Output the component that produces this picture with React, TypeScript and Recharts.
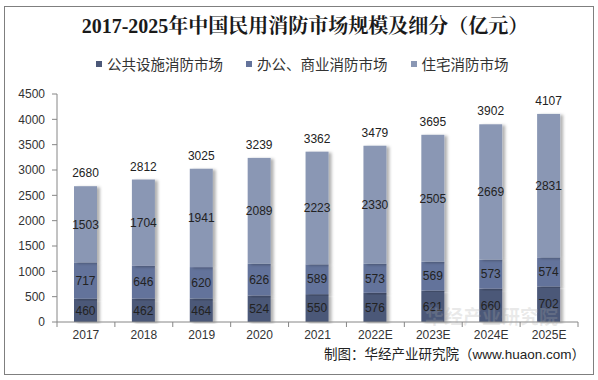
import { BarChart, Bar, XAxis, YAxis, LabelList } from "recharts";

const years = ["2017", "2018", "2019", "2020", "2021", "2022E", "2023E", "2024E", "2025E"];
const publicFacilities = [460, 462, 464, 524, 550, 576, 621, 660, 702];
const officeCommercial = [717, 646, 620, 626, 589, 573, 569, 573, 574];
const residential = [1503, 1704, 1941, 2089, 2223, 2330, 2505, 2669, 2831];
const totals = [2680, 2812, 3025, 3239, 3362, 3479, 3695, 3902, 4107];
const yTicks = [0, 500, 1000, 1500, 2000, 2500, 3000, 3500, 4000, 4500];

const seriesNames = ["公共设施消防市场", "办公、商业消防市场", "住宅消防市场"];
const seriesKeys = ["pub", "office", "res"];
const seriesColors = ["#4c5878", "#64739b", "#8a97b4"];

const data = years.map((year, i) => ({
  year,
  pub: publicFacilities[i],
  office: officeCommercial[i],
  res: residential[i],
  total: totals[i],
}));

const CHART_W = 588;
const CHART_H = 367;
const MARGIN = { top: 87, right: 15, bottom: 27, left: 0 };
const Y_W = 52;
const BAND = (CHART_W - MARGIN.left - MARGIN.right - Y_W) / years.length;

const AXIS = "#868686";
const LATIN = "'Liberation Sans', Arial, 'Noto Sans CJK SC', sans-serif";

function XTick(props: any) {
  const { x, y, payload, index } = props;
  return (
    <g>
      {index === 0 && (
        <line x1={x - BAND / 2} x2={x - BAND / 2} y1={y - 8} y2={y - 3} stroke={AXIS} />
      )}
      <line x1={x + BAND / 2} x2={x + BAND / 2} y1={y - 8} y2={y - 3} stroke={AXIS} />
      <text x={x} y={y} dy="0.71em" textAnchor="middle" fill="#333" fontSize={12} fontFamily={LATIN}>
        {payload.value}
      </text>
    </g>
  );
}

function ShadowRect(props: any) {
  const { x, y, width, height, fill } = props;
  if (!height || height <= 0) return null;
  return <rect x={x} y={y} width={width} height={height} fill={fill} filter="url(#barShadow)" />;
}

export default function App() {
  return (
    <div
      style={{
        position: "absolute",
        left: 4,
        top: 6,
        width: CHART_W,
        height: CHART_H,
        border: "1px solid #7f7f7f",
        background: "#fff",
      }}
    >
      <div
        style={{
          position: "absolute",
          top: 9,
          left: 6,
          width: "100%",
          textAlign: "center",
          fontSize: 20,
          lineHeight: "20px",
          fontWeight: "bold",
          color: "#1a1a1a",
          fontFamily: "'Liberation Serif', 'Noto Serif CJK SC', 'Noto Sans CJK SC', serif",
        }}
      >
        2017-2025年中国民用消防市场规模及细分（亿元）
      </div>

      <div
        style={{
          position: "absolute",
          top: 49,
          left: 91,
          display: "flex",
          alignItems: "center",
          fontSize: 14.5,
          lineHeight: "16px",
          color: "#333",
          fontFamily: "'Noto Sans CJK SC', sans-serif",
          whiteSpace: "nowrap",
        }}
      >
        {seriesNames.map((name, i) => (
          <div key={name} style={{ display: "flex", alignItems: "center", marginRight: 23 }}>
            <span style={{ width: 6, height: 6, background: seriesColors[i], marginRight: 5 }} />
            <span>{name}</span>
          </div>
        ))}
      </div>

      <BarChart width={CHART_W} height={CHART_H} data={data} margin={MARGIN} barSize={23}>
        <defs>
          <filter id="barShadow" x="-20%" y="-5%" width="160%" height="110%">
            <feDropShadow dx={3} dy={1} stdDeviation={1.5} floodColor="#000" floodOpacity={0.3} />
          </filter>
        </defs>
        <XAxis
          dataKey="year"
          height={25}
          interval={0}
          tickLine={false}
          tickSize={5}
          tickMargin={3}
          axisLine={{ stroke: AXIS }}
          tick={<XTick />}
        />
        <YAxis
          width={Y_W}
          domain={[0, 4500]}
          ticks={yTicks}
          interval={0}
          tickSize={5}
          tickMargin={7}
          axisLine={{ stroke: AXIS }}
          tickLine={{ stroke: AXIS }}
          tick={{ fill: "#333", fontSize: 12, fontFamily: LATIN }}
        />
        {seriesKeys.map((key, i) => (
          <Bar
            key={key}
            dataKey={key}
            name={seriesNames[i]}
            stackId="a"
            fill={seriesColors[i]}
            shape={<ShadowRect />}
            isAnimationActive={false}
          >
            <LabelList dataKey={key} position="center" fill="#222" fontSize={12} fontFamily={LATIN} />
            {i === seriesKeys.length - 1 && (
              <LabelList dataKey="total" position="top" offset={9} fill="#222" fontSize={12} fontFamily={LATIN} />
            )}
          </Bar>
        ))}
      </BarChart>

      <div
        style={{
          position: "absolute",
          top: 299,
          left: 420,
          fontSize: 19,
          lineHeight: "20px",
          fontWeight: "bold",
          color: "rgba(170,170,170,0.25)",
          fontFamily: "'Noto Sans CJK SC', sans-serif",
          whiteSpace: "nowrap",
          pointerEvents: "none",
        }}
      >
        华经产业研究院
      </div>

      <div
        style={{
          position: "absolute",
          top: 340,
          right: 8,
          fontSize: 13.5,
          lineHeight: "16px",
          color: "#222",
          fontFamily: LATIN,
          whiteSpace: "nowrap",
        }}
      >
        制图：华经产业研究院（www.huaon.com）
      </div>
    </div>
  );
}
